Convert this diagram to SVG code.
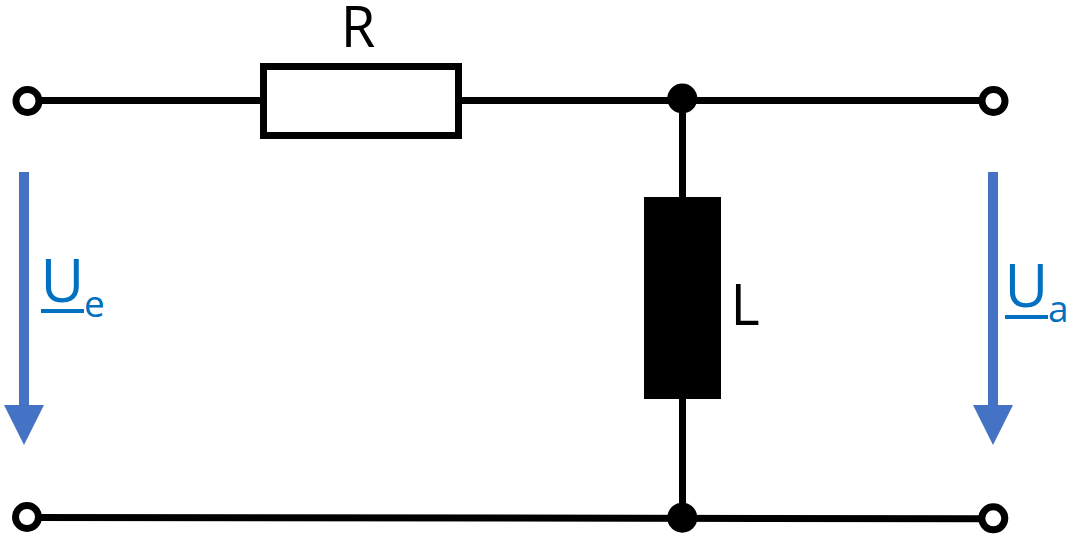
<svg xmlns="http://www.w3.org/2000/svg" width="1072" height="540" viewBox="0 0 1072 540">
<style>
.w{fill:none;stroke:#000;stroke-width:7}
.t{fill:#fff;stroke:#000;stroke-width:7}
.d{fill:#000}
.u{fill:none;stroke:#4472c4;stroke-width:10}
.h{fill:#4472c4}
text{font-family:"Open Sans","Noto Sans",sans-serif}
.b{fill:#0070c0}
</style>
<rect width="1072" height="540" fill="#fff"/>
<g id="connectors">
<path class="w" d="M28 100.500H263M459 100.500H993"/>
<path class="w" d="M682.500 99V198M682.500 398V517"/>
<path class="w" d="M27 517.500L993 518.700"/>
<path class="u" d="M24 172V410"/>
<path class="h" d="M4 405H44L24 445Z"/>
<path class="u" d="M993 172V410"/>
<path class="h" d="M973 405H1013L993 445Z"/>
</g>
<g id="R"><rect class="t" x="263.500" y="66.500" width="195" height="69"/><text x="358" y="47" font-size="56" text-anchor="middle">R</text></g>
<g id="L"><rect class="d" x="644" y="197" width="77" height="202"/><text x="730.500" y="325" font-size="56">L</text></g>
<g id="j1"><circle class="d" cx="682.300" cy="98.500" r="15"/></g>
<g id="j2"><circle class="d" cx="682.300" cy="517.700" r="15"/></g>
<g id="t1"><circle class="t" cx="27.500" cy="101" r="11.500"/></g>
<g id="t2"><circle class="t" cx="993.500" cy="101" r="11.500"/></g>
<g id="t3"><circle class="t" cx="27" cy="517" r="11.500"/></g>
<g id="t4"><circle class="t" cx="993.300" cy="518.300" r="11.500"/></g>
<g id="Ue"><text class="b" x="40.500" y="302" font-size="60">U</text><text class="b" x="84" y="317" font-size="37">e</text><rect class="b" x="41" y="309" width="43" height="4"/></g>
<g id="Ua"><text class="b" x="1004.500" y="307" font-size="60">U</text><text class="b" x="1048" y="322" font-size="37">a</text><rect class="b" x="1005" y="315" width="43" height="4"/></g>
</svg>
